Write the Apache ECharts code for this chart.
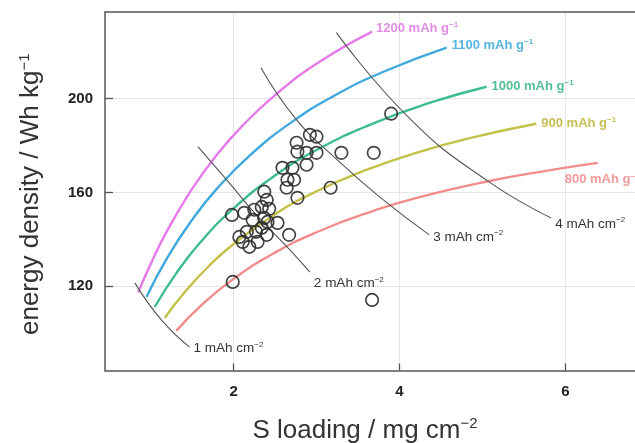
<!DOCTYPE html>
<html>
<head>
<meta charset="utf-8">
<script src="https://cdn.jsdelivr.net/npm/echarts@6/dist/echarts.min.js"></script>
<style>html,body{margin:0;padding:0;background:#fff;}#c{width:635px;height:443px;}</style>
</head>
<body>
<div id="c"></div>
<script>
// ---- data ----
const xTicks = [2, 4, 6];
const yTicks = [120, 160, 200];

const cap1200 = [[0.85,117.3],[1.0,129.4],[1.2,143.7],[1.5,161.5],[1.8,176.1],[2.1,188.2],[2.5,201.5],[3.0,214.9],[3.67,228.6]];
const cap1100 = [[0.95,115.4],[1.2,132.1],[1.5,148.3],[1.8,161.6],[2.2,175.9],[2.7,190.0],[3.2,201.0],[3.8,211.4],[4.57,221.8]];
const cap1000 = [[1.05,111.1],[1.3,125.0],[1.6,138.7],[2.0,153.2],[2.5,167.2],[3.0,178.1],[3.7,189.7],[4.4,198.6],[5.05,205.1]];
const cap900  = [[1.17,106.4],[1.4,117.0],[1.7,128.5],[2.0,138.0],[2.5,150.7],[3.0,160.5],[3.6,169.6],[4.2,176.9],[4.9,183.6],[5.65,189.3]];
const cap800  = [[1.31,100.9],[1.6,111.5],[2.0,123.1],[2.5,134.3],[3.0,143.0],[3.6,151.1],[4.3,158.5],[5.1,165.0],[5.8,169.4],[6.39,172.6]];

const areal1 = [[0.81,121.4],[1.13,105.6],[1.47,94.0]];
const areal2 = [[1.57,179.5],[1.93,164.8],[2.31,149.0],[2.67,135.8],[2.92,126.0]];
const areal3 = [[2.33,213.2],[2.76,191.0],[3.25,173.9],[3.76,158.1],[4.36,141.9]];
const areal4 = [[3.24,228.2],[4.14,191.0],[5.08,164.5],[5.83,149.1]];

const cells = [
  [3.90,193.6],[2.92,184.6],[3.00,183.8],[2.76,181.2],[2.77,177.4],[2.88,176.9],[3.00,176.9],
  [3.30,176.9],[3.69,176.9],[2.88,171.8],[2.59,170.5],[2.71,170.5],[2.65,165.4],[2.73,165.4],
  [2.64,162.0],[2.77,157.7],[3.17,162.0],[2.37,160.3],[2.40,156.8],[2.34,153.8],[2.43,153.0],
  [1.98,150.4],[2.13,151.3],[2.23,148.3],[2.37,149.1],[2.53,147.0],[2.07,141.0],[2.16,143.2],
  [2.11,138.9],[2.19,136.8],[2.29,138.9],[2.40,141.9],[2.67,141.9],[1.99,121.8],[3.67,114.1],
  [2.34,144.9],[2.27,143.2],[2.41,147.4],[2.25,152.6]
];

const capLabels = ['1200 mAh g', '1100 mAh g', '1000 mAh g', '900 mAh g', '800 mAh g'];
const arealLabels = ['1 mAh cm', '2 mAh cm', '3 mAh cm', '4 mAh cm'];

// ---- chart ----
const FONT = '"Liberation Sans", Arial, Helvetica, sans-serif';
const capColors = ['#e47be8', '#3fa9dd', '#3dbd8d', '#c3c148', '#f28b8b'];
const capLabelColors = ['#e28ce6', '#55b3e0', '#52bf92', '#c6bf55', '#f29a9a'];
const capOffsets = [[0,-3],[1,-2],[1,0],[1,0],[-37,17]];
const arealOffsets = [[0,1],[0,11],[0,2],[0,6]];

function lbl(text, sup, color, bold, size, offset) {
  return {
    show: true,
    formatter: '{t|' + text + '}{s|−' + sup + '}',
    offset: offset,
    distance: 4,
    rich: {
      t: {fontSize: size, fontWeight: bold ? 'bold' : 'normal', color: color, fontFamily: FONT, lineHeight: size + 2},
      s: {fontSize: Math.round(size * 0.6), fontWeight: bold ? 'bold' : 'normal', color: color, fontFamily: FONT, verticalAlign: 'top', lineHeight: size + 2}
    }
  };
}

const series = [];
[cap1200, cap1100, cap1000, cap900, cap800].forEach((d, i) => {
  series.push({
    type: 'line', data: d, smooth: 0.5, symbol: 'none',
    lineStyle: {color: capColors[i], width: 2.4},
    endLabel: lbl(capLabels[i], '1', capLabelColors[i], true, 13, capOffsets[i]),
    z: 2
  });
});
[areal1, areal2, areal3, areal4].forEach((d, i) => {
  series.push({
    type: 'line', data: d, smooth: 0.5, symbol: 'none',
    lineStyle: {color: '#555', width: 1.1},
    endLabel: lbl(arealLabels[i], '2', '#333', false, 13.5, arealOffsets[i]),
    z: 3
  });
});
series.push({
  type: 'scatter', data: cells, symbol: 'circle', symbolSize: 12.5,
  itemStyle: {color: 'rgba(0,0,0,0)', borderColor: '#2e2e2e', borderWidth: 1.7, opacity: 0.9},
  z: 4
});

const axisLineStyle = {color: '#555', width: 1.5};
const chart = echarts.init(document.getElementById('c'), null, {renderer: 'canvas'});
chart.setOption({
  animation: false,
  backgroundColor: '#fff',
  grid: {left: 105, right: 0, top: 12, bottom: 72.5, show: false, containLabel: false, outerBoundsMode: 'none'},
  xAxis: [{
    type: 'value', min: 0.45, max: 6.84,
    axisLine: {show: true, onZero: false, lineStyle: axisLineStyle},
    axisTick: {show: true, inside: true, length: 7, customValues: xTicks, lineStyle: {color: '#555', width: 1.3}},
    axisLabel: {customValues: xTicks, fontSize: 15, fontWeight: 'bold', color: '#222', margin: 14, fontFamily: FONT},
    splitLine: {show: true, lineStyle: {color: '#e6e6e6', width: 1}},
    name: 'S loading / mg cm{s|−2}',
    nameLocation: 'middle', nameGap: 46,
    nameTextStyle: {fontSize: 26, color: '#333', fontFamily: FONT, padding: [0, 10, 0, 0], lineHeight: 28,
      rich: {s: {fontSize: 15, color: '#333', fontFamily: FONT, verticalAlign: 'top', lineHeight: 28}}}
  }, {
    type: 'value', position: 'top', min: 0.45, max: 6.84,
    axisLine: {show: true, onZero: false, lineStyle: axisLineStyle},
    axisTick: {show: false}, axisLabel: {show: false}, splitLine: {show: false}
  }],
  yAxis: {
    type: 'value', min: 84, max: 237,
    axisLine: {show: true, onZero: false, lineStyle: axisLineStyle},
    axisTick: {show: true, inside: true, length: 8, customValues: yTicks, lineStyle: {color: '#555', width: 1.3}},
    axisLabel: {customValues: yTicks, fontSize: 15, fontWeight: 'bold', color: '#222', margin: 12, fontFamily: FONT},
    splitLine: {show: true, lineStyle: {color: '#e6e6e6', width: 1}},
    name: 'energy density / Wh kg{s|−1}',
    nameLocation: 'middle', nameGap: 60,
    nameTextStyle: {fontSize: 26, color: '#333', fontFamily: FONT, padding: [0, 6, 0, 0], lineHeight: 28,
      rich: {s: {fontSize: 15, color: '#333', fontFamily: FONT, verticalAlign: 'top', lineHeight: 28}}}
  },
  series: series
});
</script>
</body>
</html>
